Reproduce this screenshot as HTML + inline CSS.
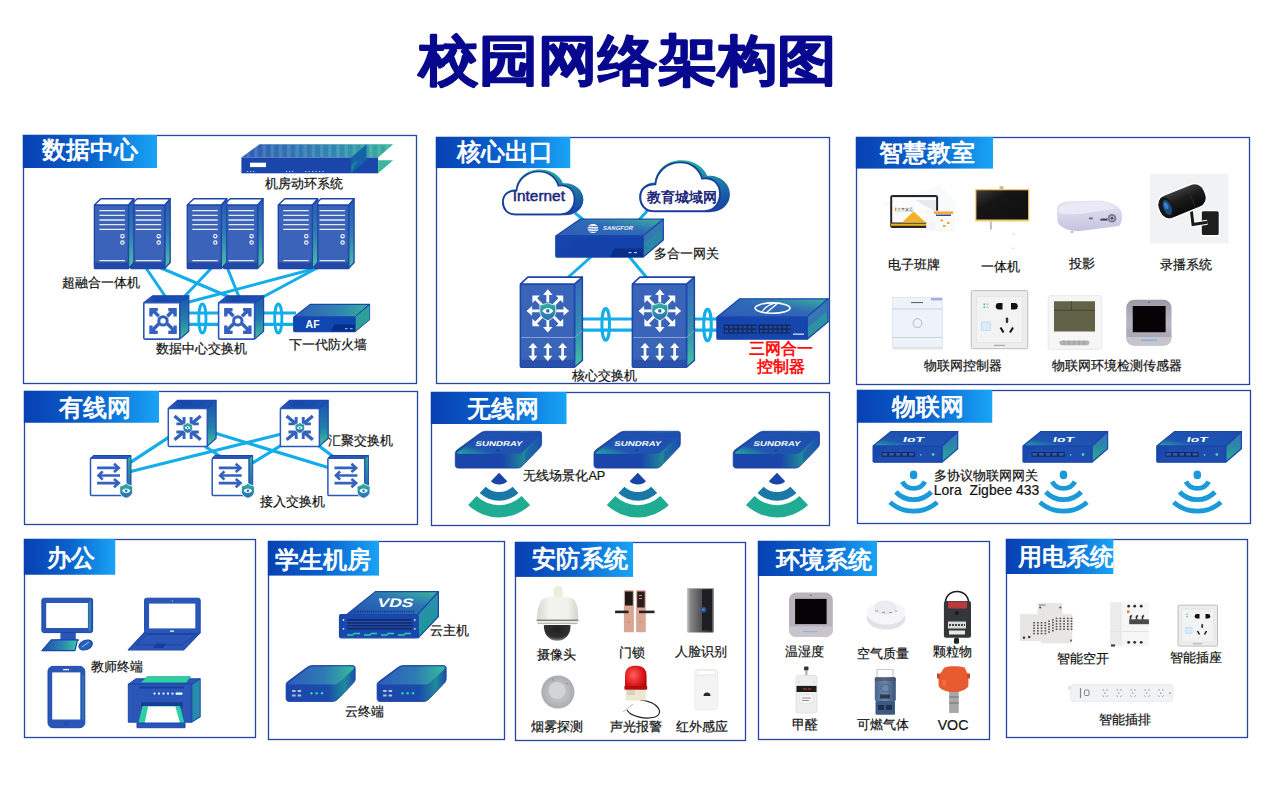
<!DOCTYPE html><html><head><meta charset="utf-8"><style>html,body{margin:0;padding:0;background:#fff;width:1281px;height:800px;overflow:hidden}svg{display:block}</style></head><body>
<svg width="1281" height="800" viewBox="0 0 1281 800" font-family="Liberation Sans, sans-serif">
<defs>
<linearGradient id="hg" x1="0" x2="1" y1="0" y2="0"><stop offset="0" stop-color="#0840b2"/><stop offset="0.5" stop-color="#0a62cc"/><stop offset="1" stop-color="#18a4f6"/></linearGradient>

<linearGradient id="sideg" x1="0" x2="0" y1="0" y2="1"><stop offset="0" stop-color="#2a57b4"/><stop offset="0.5" stop-color="#2f7db3"/><stop offset="1" stop-color="#4cc5a0"/></linearGradient>
<linearGradient id="topg" x1="0" x2="1" y1="0" y2="0"><stop offset="0" stop-color="#2f5cb6"/><stop offset="0.6" stop-color="#2f86b0"/><stop offset="1" stop-color="#36b49a"/></linearGradient>
<linearGradient id="swtop" x1="0" x2="1" y1="0" y2="0"><stop offset="0" stop-color="#2d5cb8"/><stop offset="0.3" stop-color="#1646ac"/><stop offset="1" stop-color="#1c55b5"/></linearGradient>
<linearGradient id="swside" x1="0" x2="0" y1="0" y2="1"><stop offset="0" stop-color="#1d55b2"/><stop offset="0.55" stop-color="#237fa8"/><stop offset="1" stop-color="#3ec29a"/></linearGradient>
<symbol id="cab" overflow="visible">
 <path d="M34,7 L39.5,0.8 L39.5,64.5 L34,70.6 Z" fill="url(#sideg)" stroke="#1d46a8" stroke-width="1.3" stroke-linejoin="round"/>
 <rect x="0" y="7" width="34" height="63.6" fill="#3b63b9" stroke="#1d46a8" stroke-width="1.4" rx="0.8"/>
 <path d="M0,7 L6.5,0.8 L39.5,0.8 L34,7 Z" fill="#fff" stroke="#1d46a8" stroke-width="1.4" stroke-linejoin="round"/>
 <path d="M0.6,64.5 L34,64.5 L34,70.6 L0.6,70.6 Z" fill="#2448a8"/>
 <g stroke="#e6ecf6" stroke-width="1.3"><path d="M5,12.7H30.4M5,17.4H30.4M5,22H30.4M5,26.6H30.4M5,31.4H30.4M5,62.7H30.4"/></g>
 <circle cx="28" cy="38.2" r="1.7" fill="none" stroke="#fff" stroke-width="1.1"/>
 <circle cx="28" cy="44.6" r="1.7" fill="none" stroke="#fff" stroke-width="1.1"/>
</symbol>
<symbol id="dcsw" overflow="visible">
 <path d="M0,7 L9,0 L45,0 L36,7 Z" fill="url(#swtop)" stroke="#1a48ae" stroke-width="1.2" stroke-linejoin="round"/>
 <path d="M36,7 L45,0 L45,35.4 L36,43.3 Z" fill="url(#swside)" stroke="#1a48ae" stroke-width="1.2" stroke-linejoin="round"/>
 <rect x="0" y="7" width="36" height="36.3" fill="#fff" stroke="#2a58b8" stroke-width="1.6" rx="1"/>
 <g stroke="#3461bd" stroke-width="3.4" fill="none">
  <path d="M9.5,15 L15,20.5 M29,15 L23.5,20.5 M9.5,33.5 L15,28 M29,33.5 L23.5,28"/>
 </g>
 <g fill="#3461bd">
  <path d="M5.5,12.1 H14 V15.4 L11.6,15.6 L8.8,18.4 L8.8,20.6 H5.5 Z"/>
  <path d="M33,12.1 H24.5 V15.4 L26.9,15.6 L29.7,18.4 L29.7,20.6 H33 Z"/>
  <path d="M5.5,38.2 H14 V34.9 L11.6,34.7 L8.8,31.9 L8.8,29.7 H5.5 Z"/>
  <path d="M33,38.2 H24.5 V34.9 L26.9,34.7 L29.7,31.9 L29.7,29.7 H33 Z"/>
 </g>
 <circle cx="19.2" cy="25.1" r="4.2" fill="none" stroke="#3461bd" stroke-width="3"/>
</symbol>

<linearGradient id="cloudg" x1="0.3" x2="0.9" y1="0" y2="1"><stop offset="0" stop-color="#22c096"/><stop offset="0.45" stop-color="#1c8aa6"/><stop offset="1" stop-color="#1a3ca6"/></linearGradient>
<linearGradient id="gwtop" x1="0" x2="1" y1="1" y2="0"><stop offset="0" stop-color="#2f5db8"/><stop offset="0.55" stop-color="#2f6ab6"/><stop offset="1" stop-color="#38b49c"/></linearGradient>
<linearGradient id="coreside" x1="0" x2="0" y1="0" y2="1"><stop offset="0" stop-color="#3a68bc"/><stop offset="0.6" stop-color="#3690b0"/><stop offset="1" stop-color="#44c4a0"/></linearGradient>
<linearGradient id="shieldg" x1="0" x2="0" y1="0" y2="1"><stop offset="0" stop-color="#2eb49a"/><stop offset="1" stop-color="#2a6ab8"/></linearGradient>
<symbol id="cloud" overflow="visible">
 <path d="M12,47 C3,47 -1,40 -1,33.5 C-1,25.5 5.5,20.5 13,20.5 C14,9 24,0.5 36.5,0.5 C49,0.5 57,7 60,14.5 C71,13.5 80.4,21 80.4,31 C80.4,41 72,47 62,47 Z" fill="url(#cloudg)"/>
 <path d="M12,46 C4,46 0,40 0,33.5 C0,26 6,21.5 13.5,22 C14.5,10.5 24,2.5 36,2.5 C46,2.5 53,8.5 55.5,17 C64,15 71.5,21 71.5,30.5 C71.5,40 65.5,46 57.5,46 Z" fill="#fff" stroke="#1d3c9e" stroke-width="1.7"/>
</symbol>
<symbol id="core" overflow="visible">
 <path d="M54.1,7 L62,0 L62,83.4 L54.1,90.1 Z" fill="url(#coreside)" stroke="#1a46ac" stroke-width="1.4" stroke-linejoin="round"/>
 <rect x="0" y="7" width="54.1" height="83.1" fill="#3a64b8" stroke="#1a46ac" stroke-width="1.6" rx="1"/>
 <path d="M0,7 L7.4,0 L62,0 L54.1,7 Z" fill="#fff" stroke="#1a46ac" stroke-width="1.6" stroke-linejoin="round"/>
 <path d="M0.8,82.6 L54.1,82.6 L54.1,90.1 L0.8,90.1Z" fill="#2a50ac"/>
 <path d="M0.8,82.6 L8,75 L54.1,75 L54.1,82.6Z" fill="#3560b6" opacity="0.5"/>
 <path d="M0.8,60.4 H54.1 L62,53.4" stroke="#8eaadc" stroke-width="0.9" fill="none"/>
 <g stroke="#fff" stroke-width="2.8" fill="none" stroke-linecap="butt">
  <path d="M27.4,25 V15 M27.4,42.4 V52.5 M19,33.8 H9 M35.8,33.8 H45.8 M21.5,27.9 L14.5,20.9 M33.3,27.9 L40.3,20.9 M21.5,39.7 L14.5,46.7 M33.3,39.7 L40.3,46.7"/>
 </g>
 <g fill="#fff">
  <path d="M27.4,12.2 L22.6,17.8 H32.2 Z M27.4,55.4 L22.6,49.8 H32.2 Z M6.1,33.8 L11.7,29 V38.6 Z M48.7,33.8 L43.1,29 V38.6 Z"/>
  <path d="M12,18.4 H19.5 L12,25.9 Z M42.8,18.4 H35.3 L42.8,25.9 Z M12,49.2 H19.5 L12,41.7 Z M42.8,49.2 H35.3 L42.8,41.7 Z"/>
 </g>
 <path d="M27.4,25.5 C24,27.5 21.5,27.8 19.5,27.5 V34 C19.5,39 23,42 27.4,43.5 C31.8,42 35.3,39 35.3,34 V27.5 C33.3,27.8 30.8,27.5 27.4,25.5 Z" fill="url(#shieldg)" stroke="#fff" stroke-width="0.8"/>
 <path d="M21.8,33.8 C25,29.8 29.8,29.8 33,33.8 C29.8,37.8 25,37.8 21.8,33.8 Z" fill="#fff"/>
 <circle cx="27.4" cy="33.8" r="1.8" fill="#2a6ab8"/>
 <g stroke="#fff" stroke-width="2.6" fill="none"><path d="M12.6,68 V82 M27.4,68 V82 M42.2,68 V82"/></g>
 <g fill="#fff"><path d="M12.6,65.6 L8.1,71 H17.1Z M12.6,84.1 L8.1,78.7 H17.1Z M27.4,65.6 L22.9,71 H31.9Z M27.4,84.1 L22.9,78.7 H31.9Z M42.2,65.6 L37.7,71 H46.7Z M42.2,84.1 L37.7,78.7 H46.7Z"/></g>
</symbol>

<linearGradient id="tvscr" x1="0" x2="1" y1="0" y2="1"><stop offset="0" stop-color="#3a3a3a"/><stop offset="0.35" stop-color="#151515"/><stop offset="1" stop-color="#101010"/></linearGradient>
<linearGradient id="projg" x1="0" x2="0" y1="0" y2="1"><stop offset="0" stop-color="#e4e4f4"/><stop offset="1" stop-color="#c4c4e0"/></linearGradient>
<linearGradient id="sensg" x1="0" x2="0" y1="0" y2="1"><stop offset="0" stop-color="#9c9aa4"/><stop offset="0.5" stop-color="#b8b6c0"/><stop offset="1" stop-color="#a09ea8"/></linearGradient>
<linearGradient id="cylg" x1="0" x2="0" y1="0" y2="1"><stop offset="0" stop-color="#3c3c3c"/><stop offset="0.4" stop-color="#1c1c1c"/><stop offset="1" stop-color="#0a0a0a"/></linearGradient>

<linearGradient id="aggside" x1="0" x2="0" y1="0" y2="1"><stop offset="0" stop-color="#1a52b2"/><stop offset="0.6" stop-color="#2280a8"/><stop offset="1" stop-color="#46c8a0"/></linearGradient>
<linearGradient id="accside" x1="0" x2="0" y1="0" y2="1"><stop offset="0" stop-color="#2fb49a"/><stop offset="1" stop-color="#2a5ab6"/></linearGradient>
<symbol id="shield" overflow="visible">
 <path d="M0,-7.2 C-3,-5 -5,-4.6 -6.5,-4.6 V1 C-6.5,4.6 -3.5,6.6 0,7.8 C3.5,6.6 6.5,4.6 6.5,1 V-4.6 C5,-4.6 3,-5 0,-7.2Z" fill="url(#shieldg)" stroke="#fff" stroke-width="0.9"/>
 <path d="M-4.2,0.2 C-1.8,-2.8 1.8,-2.8 4.2,0.2 C1.8,3.2 -1.8,3.2 -4.2,0.2Z" fill="#fff"/>
 <circle cx="0" cy="0.2" r="1.3" fill="#2a6ab8"/>
</symbol>
<symbol id="agg" overflow="visible">
 <path d="M0,8.1 L9.4,0 L47.8,0 L39,8.1 Z" fill="url(#swtop)" stroke="#1a48ae" stroke-width="1.2" stroke-linejoin="round"/>
 <path d="M39,8.1 L47.8,0 L47.8,38 L39,46.1 Z" fill="url(#aggside)" stroke="#1a48ae" stroke-width="1.2" stroke-linejoin="round"/>
 <rect x="0" y="8.1" width="39" height="38" fill="#fff" stroke="#2a58b8" stroke-width="1.5" rx="1"/>
 <g stroke="#3461bd" stroke-width="3.3" fill="none"><path d="M6.2,15.7 L15.2,23.3 M32.4,15.7 L23.4,23.3 M6.2,39.5 L15.2,31.9 M32.4,39.5 L23.4,31.9"/></g>
 <g fill="#3461bd">
  <path d="M14.3,16.6 H17.2 V25 H8.1 V22.1 H14.3 Z"/>
  <path d="M24.3,16.6 H21.4 V25 H30.5 V22.1 H24.3 Z"/>
  <path d="M14.3,38.6 H17.2 V30.2 H8.1 V33.1 H14.3 Z"/>
  <path d="M24.3,38.6 H21.4 V30.2 H30.5 V33.1 H24.3 Z"/>
 </g>
 <use href="#shield" x="19.4" y="27.4" transform="translate(19.4,27.4) scale(0.72) translate(-19.4,-27.4)"/>
</symbol>
<symbol id="acc" overflow="visible">
 <path d="M0,2.7 L2.7,0 L40.5,0 L36.8,2.7 Z" fill="#2a5ab8" stroke="#1a48ae" stroke-width="1" stroke-linejoin="round"/>
 <path d="M36.8,2.7 L40.5,0 L40.5,34 L36.8,37.4 Z" fill="url(#accside)" stroke="#1a48ae" stroke-width="1" stroke-linejoin="round"/>
 <rect x="0" y="2.7" width="36.8" height="37.4" fill="#fff" stroke="#2a58b8" stroke-width="1.5" rx="1"/>
 <g stroke="#3461bd" stroke-width="2.6" fill="none">
  <path d="M6.6,12.4 H27.5 M9,20 H29.5 M6.6,27.6 H27.5"/>
  <path d="M23.5,8.2 L28.3,12.4 L23.5,16.6 M12.2,15.8 L8,20 L12.2,24.2 M23.5,23.4 L28.3,27.6 L23.5,31.8" stroke-linejoin="miter"/>
 </g>
 <use href="#shield" x="35.7" y="35"/>
</symbol>

<linearGradient id="aptop" x1="0" x2="1" y1="1" y2="0"><stop offset="0" stop-color="#22b496"/><stop offset="0.25" stop-color="#1f56b0"/><stop offset="1" stop-color="#1e4caf"/></linearGradient>
<linearGradient id="apfront" x1="0" x2="1" y1="0" y2="0"><stop offset="0" stop-color="#1a46ab"/><stop offset="0.55" stop-color="#1a46ab"/><stop offset="0.8" stop-color="#1f8a98"/><stop offset="1" stop-color="#1a4aad"/></linearGradient>
<linearGradient id="iottop" x1="0" x2="1" y1="1" y2="0"><stop offset="0" stop-color="#2aa89c"/><stop offset="0.3" stop-color="#1e56b2"/><stop offset="1" stop-color="#1e4cb0"/></linearGradient>
<linearGradient id="iotside" x1="0" x2="0" y1="0" y2="1"><stop offset="0" stop-color="#3a6cbc"/><stop offset="0.5" stop-color="#2a8aa8"/><stop offset="1" stop-color="#28b090"/></linearGradient>
<symbol id="ap" overflow="visible">
 <path d="M0,22.2 C0,20.5 1,19.5 2,18.5 L24,2.5 C26.5,0.8 28,0 31,0 H84 C85.5,0 86.3,1 86.3,2.5 V12 C86.3,14 85.5,15.5 84,17 L69.6,32 C67,34.6 65.5,36.8 62,36.8 H3 C1.2,36.8 0,35.6 0,34 Z" fill="url(#apfront)" stroke="#1a3ea0" stroke-width="0.8"/>
 <path d="M2,21 L25.5,3 C27.5,1.4 29,1 31,1 H84 C85.5,1 85.8,2.5 84.5,4 L69,19.5 C67,21.5 65.5,22.4 62.5,22.4 H3 C1.5,22.4 1,21.8 2,21Z" fill="url(#aptop)"/>
 <path d="M70,21 L85,5 V12 C85,14 84,15.5 83,16.5 L69.6,30.5 Z" fill="#1e58b0" opacity="0.6"/>
 <text x="19.8" y="15.1" font-size="7" font-weight="bold" fill="#fff" textLength="47" lengthAdjust="spacingAndGlyphs" transform="translate(19.8,15.1) skewX(-14) translate(-19.8,-15.1)">SUNDRAY</text>
 <rect x="41" y="18.5" width="3" height="0.8" fill="#0a2a80"/>
</symbol>
<symbol id="iot" overflow="visible">
 <path d="M68.9,14.5 L84.6,0 L84.6,17.3 L68.9,30.7 Z" fill="url(#iotside)" stroke="#1a46ac" stroke-width="1.2" stroke-linejoin="round"/>
 <path d="M0,14.5 L17.9,0 L84.6,0 L68.9,14.5 Z" fill="url(#iottop)" stroke="#1a46ac" stroke-width="1.2" stroke-linejoin="round"/>
 <rect x="0" y="14.5" width="68.9" height="16.2" fill="#1848ae" stroke="#1a46ac" stroke-width="1.2" rx="1"/>
 <path d="M1,29.5 L14,15.5 H68 V29.5Z" fill="#2a5ab8" opacity="0.25"/>
 <rect x="8.5" y="20.5" width="33.3" height="4.8" fill="#0e2a6e"/>
 <g fill="#3a5a9a"><rect x="9.5" y="21.5" width="4.6" height="2.6"/><rect x="16.1" y="21.5" width="4.6" height="2.6"/><rect x="22.7" y="21.5" width="4.6" height="2.6"/><rect x="29.3" y="21.5" width="4.6" height="2.6"/><rect x="35.9" y="21.5" width="4.6" height="2.6"/></g>
 <circle cx="47.7" cy="23.3" r="0.9" fill="#3ad8a0"/>
 <circle cx="60" cy="23" r="1.4" fill="#3ad8a0"/>
 <text x="29.5" y="10.7" font-size="7.4" font-weight="bold" fill="#fff" textLength="21" lengthAdjust="spacingAndGlyphs" transform="translate(29.5,10.7) skewX(-14) translate(-29.5,-10.7)">IoT</text>
</symbol>

<linearGradient id="kbg" x1="0" x2="1" y1="0" y2="0"><stop offset="0" stop-color="#1f4fb0"/><stop offset="0.6" stop-color="#2a8ab0"/><stop offset="1" stop-color="#3ec8a0"/></linearGradient>
<linearGradient id="ttop" x1="0" x2="1" y1="0" y2="0"><stop offset="0" stop-color="#2e5cb8"/><stop offset="0.55" stop-color="#2e7ab4"/><stop offset="1" stop-color="#36bc9c"/></linearGradient>
<linearGradient id="tfront" x1="0" x2="1" y1="0" y2="0"><stop offset="0" stop-color="#1a46ab"/><stop offset="0.6" stop-color="#1a4aab"/><stop offset="0.85" stop-color="#1f8a9c"/><stop offset="1" stop-color="#1a4cad"/></linearGradient>
<linearGradient id="vdstop" x1="0" x2="1" y1="1" y2="0"><stop offset="0" stop-color="#1f50b0"/><stop offset="0.6" stop-color="#2d74b4"/><stop offset="1" stop-color="#38bc9c"/></linearGradient>
<linearGradient id="vdsside" x1="0" x2="0" y1="0" y2="1"><stop offset="0" stop-color="#2d8cb0"/><stop offset="1" stop-color="#1a9a96"/></linearGradient>
<linearGradient id="domeg" x1="0" x2="1" y1="0" y2="0"><stop offset="0" stop-color="#d8d8d0"/><stop offset="0.3" stop-color="#f4f4ee"/><stop offset="0.75" stop-color="#f2f2ec"/><stop offset="1" stop-color="#d4d4cc"/></linearGradient>
<radialGradient id="bubg" cx="0.5" cy="0.3" r="0.7"><stop offset="0" stop-color="#202020"/><stop offset="0.7" stop-color="#303030"/><stop offset="1" stop-color="#8a8a8a"/></radialGradient>
<linearGradient id="faceg" x1="0" x2="1" y1="0" y2="0"><stop offset="0" stop-color="#d0d0d0"/><stop offset="0.12" stop-color="#8a8a8a"/><stop offset="0.5" stop-color="#555"/><stop offset="1" stop-color="#2a2a2a"/></linearGradient>
<radialGradient id="redg" cx="0.4" cy="0.4" r="0.7"><stop offset="0" stop-color="#ff6060"/><stop offset="0.6" stop-color="#e01818"/><stop offset="1" stop-color="#a00808"/></radialGradient>
<radialGradient id="smokeg" cx="0.5" cy="0.5" r="0.5"><stop offset="0" stop-color="#d4d6d8"/><stop offset="1" stop-color="#a8acb0"/></radialGradient>
<linearGradient id="gasg" x1="0" x2="1" y1="0" y2="0"><stop offset="0" stop-color="#4a6890"/><stop offset="0.5" stop-color="#6a88a8"/><stop offset="1" stop-color="#3a5478"/></linearGradient>
<symbol id="term" overflow="visible">
 <path d="M0,19 C0,17.5 1,16.5 2.5,15.5 L20,2.5 C22.5,0.8 24,0 27,0 H66.5 C68,0 69.1,1 69.1,2.5 V13 C69.1,15 68.3,16.5 67,17.8 L53,32.5 C50.5,35 49,36 46,36 H3 C1.2,36 0,34.8 0,33 Z" fill="url(#tfront)" stroke="#1a3ea0" stroke-width="0.8"/>
 <path d="M2,17.8 L21.5,3 C23.5,1.5 25,1 27,1 H66.5 C68,1 68.3,2.5 67,4 L53.5,16.5 C51.5,18.4 50,19 47,19 H3 C1.5,19 1,18.5 2,17.8Z" fill="url(#ttop)"/>
 <g fill="#b8c0d0"><rect x="6" y="24.5" width="3.5" height="2"/><rect x="11.5" y="24.5" width="3.5" height="2"/><rect x="6" y="29" width="3.5" height="2"/><rect x="11.5" y="29" width="3.5" height="2"/></g>
 <g fill="#30d8a0"><circle cx="25.4" cy="27.8" r="1.2"/><circle cx="30.6" cy="27.8" r="1.2"/><circle cx="35.9" cy="27.8" r="1.2"/></g>
</symbol>

</defs>
<rect width="1281" height="800" fill="#fff"/>

<rect x="23.5" y="135.5" width="393.0" height="248.0" fill="#fff" stroke="#2446a2" stroke-width="1.3"/>
<rect x="22.85" y="134.85" width="134.15" height="33.15" fill="url(#hg)"/>
<rect x="436.5" y="137.5" width="393.0" height="246.0" fill="#fff" stroke="#2446a2" stroke-width="1.3"/>
<rect x="435.85" y="136.85" width="134.4" height="31.249999999999993" fill="url(#hg)"/>
<rect x="856.5" y="137.5" width="393.0" height="247.0" fill="#fff" stroke="#2446a2" stroke-width="1.3"/>
<rect x="855.85" y="136.85" width="137.15" height="31.749999999999993" fill="url(#hg)"/>
<rect x="24.5" y="391.5" width="393.0" height="133.0" fill="#fff" stroke="#2446a2" stroke-width="1.3"/>
<rect x="23.85" y="390.85" width="135.15" height="31.9" fill="url(#hg)"/>
<rect x="431.5" y="392.5" width="398.0" height="133.0" fill="#fff" stroke="#2446a2" stroke-width="1.3"/>
<rect x="430.85" y="391.85" width="135.65" height="32.15" fill="url(#hg)"/>
<rect x="857.5" y="390.5" width="393.0" height="133.0" fill="#fff" stroke="#2446a2" stroke-width="1.3"/>
<rect x="856.85" y="389.85" width="135.4" height="32.9" fill="url(#hg)"/>
<rect x="24.5" y="539.5" width="231.0" height="198.0" fill="#fff" stroke="#2446a2" stroke-width="1.3"/>
<rect x="23.85" y="538.85" width="91.4" height="35.9" fill="url(#hg)"/>
<rect x="268.5" y="541.5" width="236.0" height="198.0" fill="#fff" stroke="#2446a2" stroke-width="1.3"/>
<rect x="267.85" y="540.85" width="111.15" height="34.75000000000002" fill="url(#hg)"/>
<rect x="515.5" y="542.5" width="230.0" height="198.0" fill="#fff" stroke="#2446a2" stroke-width="1.3"/>
<rect x="514.85" y="541.85" width="118.25000000000003" height="35.049999999999976" fill="url(#hg)"/>
<rect x="758.5" y="541.5" width="231.0" height="198.0" fill="#fff" stroke="#2446a2" stroke-width="1.3"/>
<rect x="757.85" y="540.85" width="119.15" height="35.15" fill="url(#hg)"/>
<rect x="1006.5" y="539.5" width="241.0" height="198.0" fill="#fff" stroke="#2446a2" stroke-width="1.3"/>
<rect x="1005.85" y="538.85" width="107.44999999999996" height="35.15" fill="url(#hg)"/>
<clipPath id="hclip"><rect x="1006.6" y="539.25" width="106.69999999999993" height="34.75"/></clipPath>
<g stroke="#13aeea" stroke-width="3" stroke-linecap="round">
<line x1="146" y1="268" x2="165" y2="296"/>
<line x1="161" y1="268" x2="227" y2="296"/>
<line x1="211.5" y1="268" x2="184" y2="297"/>
<line x1="227.4" y1="268" x2="239" y2="297"/>
<line x1="317" y1="268" x2="189" y2="302"/>
<line x1="317" y1="268" x2="263" y2="297"/>
</g>
<use href="#cab" x="130.7" y="198"/>
<use href="#cab" x="94.4" y="198"/>
<use href="#cab" x="223.60000000000002" y="198"/>
<use href="#cab" x="187.3" y="198"/>
<use href="#cab" x="314.6" y="198"/>
<use href="#cab" x="278.3" y="198"/>
<g>
 <clipPath id="rtop"><path d="M241.4,157.5 L259.5,144.3 L393.1,144.3 L378.1,157.5 Z"/></clipPath>
 <path d="M241.4,157.5 L259.5,144.3 L393.1,144.3 L378.1,157.5 Z" fill="url(#topg)"/>
 <g clip-path="url(#rtop)"><rect x="246.0" y="144.3" width="3.6" height="13.2" fill="#fff" opacity="0.13"/><rect x="254.2" y="144.3" width="3.6" height="13.2" fill="#fff" opacity="0.13"/><rect x="262.4" y="144.3" width="3.6" height="13.2" fill="#fff" opacity="0.13"/><rect x="270.6" y="144.3" width="3.6" height="13.2" fill="#fff" opacity="0.13"/><rect x="278.8" y="144.3" width="3.6" height="13.2" fill="#fff" opacity="0.13"/><rect x="287.0" y="144.3" width="3.6" height="13.2" fill="#fff" opacity="0.13"/><rect x="295.2" y="144.3" width="3.6" height="13.2" fill="#fff" opacity="0.13"/><rect x="303.4" y="144.3" width="3.6" height="13.2" fill="#fff" opacity="0.13"/><rect x="311.6" y="144.3" width="3.6" height="13.2" fill="#fff" opacity="0.13"/><rect x="319.8" y="144.3" width="3.6" height="13.2" fill="#fff" opacity="0.13"/><rect x="328.0" y="144.3" width="3.6" height="13.2" fill="#fff" opacity="0.13"/><rect x="336.2" y="144.3" width="3.6" height="13.2" fill="#fff" opacity="0.13"/><rect x="344.4" y="144.3" width="3.6" height="13.2" fill="#fff" opacity="0.13"/><rect x="352.6" y="144.3" width="3.6" height="13.2" fill="#fff" opacity="0.13"/><rect x="360.8" y="144.3" width="3.6" height="13.2" fill="#fff" opacity="0.13"/><rect x="369.0" y="144.3" width="3.6" height="13.2" fill="#fff" opacity="0.13"/><rect x="377.2" y="144.3" width="3.6" height="13.2" fill="#fff" opacity="0.13"/><rect x="385.4" y="144.3" width="3.6" height="13.2" fill="#fff" opacity="0.13"/></g>
 <rect x="241.4" y="157.5" width="136.7" height="15.8" fill="#1a45aa"/>
 <path d="M378.1,160.3 L393.1,160.3 L378.1,173.3 Z" fill="#3ab89c"/>
 <path d="M351.2,157.5 L366.5,144.3 L366.5,160 L351.2,173.3 Z" fill="#1462a8"/>
 <path d="M351.2,173.3 L351.2,165 L358,160 Z" fill="#1a8a98" opacity="0.8"/>
 <rect x="250" y="162.7" width="16" height="4.4" fill="#fff"/>
 <g fill="#c8d4ee"><rect x="247" y="171" width="1.2" height="1"/><rect x="250" y="171" width="1.2" height="1"/><rect x="253" y="171" width="1.2" height="1"/>
 <rect x="286" y="171" width="1.2" height="1"/><rect x="289" y="171" width="1.2" height="1"/><rect x="292" y="171" width="1.2" height="1"/>
 <rect x="305" y="171" width="1.2" height="1"/><rect x="308.5" y="171" width="1.2" height="1"/><rect x="312" y="171" width="1.2" height="1"/><rect x="315.5" y="171" width="1.2" height="1"/><rect x="319" y="171" width="1.2" height="1"/><rect x="322.5" y="171" width="1.2" height="1"/></g>
</g>
<g stroke="#13aeea" stroke-width="3.2">
<path d="M180,313 H219 M180,324.3 H219 M263,313 H296 M263,324.3 H296"/>
</g>
<g fill="none" stroke="#13aeea" stroke-width="2.8"><ellipse cx="202.4" cy="318.5" rx="3.6" ry="14.5"/><ellipse cx="278.3" cy="318.5" rx="3.6" ry="14.5"/></g>
<use href="#dcsw" x="143.8" y="295.8"/>
<use href="#dcsw" x="218.6" y="295.8"/>
<g stroke-linejoin="round">
 <path d="M293.7,317.1 L310.1,304.4 L369.5,304.4 L355.1,317.1 Z" fill="url(#topg)" stroke="#1a46ac" stroke-width="1.2"/>
 <path d="M355.1,317.1 L369.5,304.4 L369.5,319.5 L355.1,331.6 Z" fill="#2a8fa8" stroke="#1a46ac" stroke-width="1.2"/>
 <path d="M355.1,317.1 L369.5,305.5 L369.5,319.5 L355.1,331.6 Z" fill="#2e9e9c"/>
 <rect x="293.7" y="317.1" width="61.4" height="14.5" fill="#0f46b2" stroke="#1a46ac" stroke-width="1.2" rx="1"/>
 <path d="M331,331.6 L334.3,324.5 L355,324.5 L355,331.6Z" fill="#082e8c"/>
 <text x="305.6" y="328" font-size="10.5" font-weight="bold" fill="#fff">AF</text>
 <rect x="345" y="328.2" width="2.6" height="1" fill="#b8c6e8"/><rect x="350" y="328.2" width="2.6" height="1" fill="#b8c6e8"/>
</g>
<g stroke="#13aeea" stroke-width="3"><line x1="575" y1="213" x2="585" y2="221"/><line x1="648" y1="210" x2="638" y2="221"/>
<line x1="592" y1="256" x2="567.4" y2="278"/><line x1="628.7" y1="256" x2="647" y2="278"/></g>
<use href="#cloud" x="503" y="169" transform="translate(503,169) scale(1,0.985) translate(-503,-169)"/>
<use href="#cloud" x="640.3" y="159.6" transform="translate(640.3,159.6) scale(1.115,1.12) translate(-640.3,-159.6)"/>
<g stroke-linejoin="round">
 <path d="M555.8,236 L580.1,219.2 L663.3,219.2 L643.2,236 Z" fill="url(#gwtop)" stroke="#1a46ac" stroke-width="1.3"/>
 <path d="M643.2,236 L663.3,219.2 L663.3,239.9 L643.2,257.1 Z" fill="#2c86a8" stroke="#1a46ac" stroke-width="1.3"/>
 <path d="M643.2,236 L663.3,220 L663.3,228 L643.2,244Z" fill="#3a70b8" opacity="0.6"/>
 <rect x="555.8" y="236" width="87.4" height="21.1" fill="#1546ae" stroke="#1a46ac" stroke-width="1.3" rx="1"/>
 <path d="M556.5,256.5 L576,238 L643,238 L643,256.5Z" fill="#0f3ea6" opacity="0.5"/>
 <path d="M609.7,257 L614.5,248.5 L643,248.5 L643,257Z" fill="#0a2e8a"/>
 <rect x="628.5" y="252" width="3" height="1.2" fill="#c0cce8"/><rect x="634" y="252" width="3" height="1.2" fill="#c0cce8"/>
 <ellipse cx="593" cy="228.5" rx="5.4" ry="4.6" fill="#fff"/>
 <path d="M587,226.6 C590,225.5 595,227.5 599,226 M587,229 C590,228 595,230 599,228.5 M587.5,231.4 C590,230.5 595,232.3 598.5,231" stroke="#2a5db6" stroke-width="0.9" fill="none"/>
 <text x="602.5" y="230.3" font-size="5.8" font-weight="bold" fill="#e8eef8" textLength="30" lengthAdjust="spacingAndGlyphs" transform="translate(602.5,230.3) skewX(-14) translate(-602.5,-230.3)">SANGFOR</text>
</g>
<g stroke="#13aeea" stroke-width="3.2"><path d="M574,319 H634 M574,330.1 H634 M686,319 H718 M686,330.1 H718"/></g>
<g fill="none" stroke="#13aeea" stroke-width="3"><ellipse cx="605.7" cy="324.4" rx="3.8" ry="15.8"/><ellipse cx="707.5" cy="325.1" rx="3.8" ry="15.8"/></g>
<use href="#core" x="520.4" y="277.1"/>
<use href="#core" x="632.4" y="277.1"/>
<g stroke-linejoin="round">
 <path d="M716.9,317.2 L739.8,298.8 L828.1,298.8 L807.2,317.2 Z" fill="url(#gwtop)" stroke="#1a46ac" stroke-width="1.3"/>
 <path d="M807.2,317.2 L828.1,298.8 L828.1,321.7 L807.2,339.2 Z" fill="#2c92a4" stroke="#1a46ac" stroke-width="1.3"/>
 <path d="M807.2,317.2 L828.1,300 L828.1,311 L807.2,328Z" fill="#3a6cb8" opacity="0.7"/>
 <rect x="716.9" y="317.2" width="90.3" height="22" fill="#1546ae" stroke="#1a46ac" stroke-width="1.3" rx="1"/>
 <rect x="723.7" y="324.5" width="32.5" height="9.1" fill="#0d2a6e"/>
 <rect x="758.5" y="324.5" width="32.2" height="9.1" fill="#0d2a6e"/>
 <g fill="#2a4a8a"><rect x="725.0" y="326" width="3" height="2.4"/><rect x="725.0" y="330" width="3" height="2.4"/><rect x="729.6" y="326" width="3" height="2.4"/><rect x="729.6" y="330" width="3" height="2.4"/><rect x="734.2" y="326" width="3" height="2.4"/><rect x="734.2" y="330" width="3" height="2.4"/><rect x="738.8" y="326" width="3" height="2.4"/><rect x="738.8" y="330" width="3" height="2.4"/><rect x="743.4" y="326" width="3" height="2.4"/><rect x="743.4" y="330" width="3" height="2.4"/><rect x="748.0" y="326" width="3" height="2.4"/><rect x="748.0" y="330" width="3" height="2.4"/><rect x="752.6" y="326" width="3" height="2.4"/><rect x="752.6" y="330" width="3" height="2.4"/><rect x="760.0" y="326" width="3" height="2.4"/><rect x="760.0" y="330" width="3" height="2.4"/><rect x="764.6" y="326" width="3" height="2.4"/><rect x="764.6" y="330" width="3" height="2.4"/><rect x="769.2" y="326" width="3" height="2.4"/><rect x="769.2" y="330" width="3" height="2.4"/><rect x="773.8" y="326" width="3" height="2.4"/><rect x="773.8" y="330" width="3" height="2.4"/><rect x="778.4" y="326" width="3" height="2.4"/><rect x="778.4" y="330" width="3" height="2.4"/><rect x="783.0" y="326" width="3" height="2.4"/><rect x="783.0" y="330" width="3" height="2.4"/><rect x="787.6" y="326" width="3" height="2.4"/><rect x="787.6" y="330" width="3" height="2.4"/></g>
 <rect x="793" y="333.5" width="11" height="1.4" fill="#c8d4ee"/>
 <ellipse cx="772.6" cy="308.1" rx="17.5" ry="5.2" fill="none" stroke="#fff" stroke-width="1.6"/>
 <path d="M762,312 C766,305 774,302 781,303.5 M766,313 L778,303" stroke="#fff" stroke-width="1.3" fill="none"/>
</g>
<g>
 <path d="M881,204 L940,185 L958,205 L940,232 Z" fill="#f9fafb"/>
 <rect x="890.2" y="195.1" width="47.9" height="32.9" rx="2.5" fill="#262626"/>
 <rect x="892.2" y="197.1" width="43.9" height="25.4" fill="#fcfcfc"/>
 <path d="M915,200 L936,200 L936,212 Z" fill="#e6e9ef"/>
 <path d="M902,222.5 L913.5,211.5 L926,222.5 Z" fill="#f4b02a"/>
 <rect x="895" y="207.5" width="1.4" height="3.5" fill="#f08a10"/>
 <text x="896.5" y="211.3" font-size="4.2" fill="#333">大学英语</text>
 <rect x="891" y="223.6" width="46" height="2.2" fill="#e6b020"/>
 <rect x="926.5" y="211" width="27.3" height="19.5" fill="#fafafa" stroke="#eef0f4" stroke-width="0.6"/>
 <rect x="934" y="211.5" width="19" height="2.4" fill="#f7a23a"/>
 <rect x="936" y="214.5" width="15" height="1.5" fill="#2f4a80"/>
 <rect x="940.5" y="219.5" width="2.6" height="1.8" fill="#f59a30"/><rect x="947" y="222" width="2.6" height="1.8" fill="#f59a30"/><rect x="943" y="225" width="2.6" height="1.8" fill="#f59a30"/>
 <rect x="927" y="222" width="8" height="7" fill="#f2f4f8"/>
</g>
<g>
 <rect x="990" y="221" width="1.8" height="8.6" fill="#b8b8b8"/>
 <rect x="975.2" y="189" width="54.1" height="32.5" fill="#f2c96a" rx="0.8"/>
 <rect x="976.4" y="190.3" width="51.7" height="29.2" fill="url(#tvscr)"/>
 <rect x="999.5" y="186.2" width="4" height="2.8" fill="#c8b890"/>
 <circle cx="1013.5" cy="234" r="0.9" fill="none" stroke="#ccc" stroke-width="0.5"/>
 <circle cx="1012.8" cy="248.2" r="0.8" fill="#ccc"/>
</g>
<g>
 <path d="M1057,212 C1056,206 1059,203 1066,201.5 L1098,200.5 C1108,201 1117,205 1120.5,210 C1123,215 1122.5,222 1119,226 L1080,231 C1070,231.5 1060,228 1057.5,222 Z" fill="url(#projg)"/>
 <path d="M1057,212 C1058,207 1062,204 1070,203 L1098,202 C1106,202.5 1112,205 1116,208.5 L1080,214 C1068,215 1060,214.5 1057,212Z" fill="#eaeaf6"/>
 <circle cx="1112" cy="218.3" r="4.3" fill="#7a7a94"/>
 <circle cx="1112" cy="218.3" r="2.4" fill="#c4c4dc"/>
 <circle cx="1112" cy="218.3" r="1.3" fill="#3a3a55"/>
 <rect x="1100.5" y="218.5" width="7" height="2.2" fill="#4a4a66"/>
 <rect x="1089" y="217.5" width="3.8" height="1.8" fill="#6a6a84"/>
 <rect x="1071" y="231" width="2" height="2" fill="#b0b0c8"/>
</g>
<g>
 <rect x="1150" y="173.8" width="78.4" height="69.6" fill="#f1f2f4"/>
 <rect x="1200.3" y="209.7" width="19.5" height="27" rx="2.2" fill="#fff"/>
 <rect x="1201.8" y="211.2" width="16.9" height="23.8" rx="1.5" fill="#1e1e1e"/>
 <path d="M1190.9,207 L1193,224.5 L1207.3,222.3" stroke="#fff" stroke-width="5.2" fill="none"/>
 <path d="M1190.9,207 L1193,224.5 L1207.3,222.3" stroke="#1a1a1a" stroke-width="3" fill="none"/>
 <g transform="rotate(-22 1182 201.2)">
  <rect x="1156.5" y="188" width="51" height="26.4" rx="11" fill="#fff"/>
  <rect x="1158" y="189.5" width="48" height="23.4" rx="9.5" fill="url(#cylg)"/>
  <ellipse cx="1165" cy="201.2" rx="6.2" ry="11.2" fill="#161616"/>
  <ellipse cx="1166" cy="201.5" rx="4" ry="7.8" fill="#1a4a80"/>
  <ellipse cx="1165.5" cy="199.5" rx="2" ry="3.6" fill="#3a80c8"/>
  <path d="M1192,190 V212.5" stroke="#333" stroke-width="0.6"/>
 </g>
</g>
<g>
 <rect x="893" y="346" width="49" height="3.5" fill="#d8d8d8" opacity="0.7"/>
 <rect x="892.25" y="297.25" width="50.5" height="50" fill="#eef3fb" stroke="#d4dae6" stroke-width="0.6"/>
 <rect x="931" y="298" width="11" height="2.4" fill="#9fb0d8"/>
 <rect x="911" y="302" width="12" height="1.1" fill="#666"/>
 <path d="M892.5,309 H942.5 M892.5,337.5 H942.5" stroke="#c8ccd4" stroke-width="0.9"/>
 <circle cx="917.5" cy="323.1" r="4.4" fill="none" stroke="#a8a8a8" stroke-width="0.8"/>
</g>
<g>
 <rect x="971.25" y="290.6" width="56.5" height="58.1" rx="1.5" fill="#ededed" stroke="#bdbdbd" stroke-width="1"/>
 <rect x="976.25" y="296.25" width="46.25" height="46.25" fill="#f3f3f3" stroke="#dedede" stroke-width="0.6"/>
 <path d="M999,303 h3.5 v6.5 h-3.5 a3.2,3.2 0 0 1 0,-6.5Z" fill="#111"/>
 <path d="M1014.5,303 h-3.5 v6.5 h3.5 a3.2,3.2 0 0 0 0,-6.5Z" fill="#111"/>
 <rect x="1005.8" y="317.5" width="2.4" height="5.5" rx="1" fill="#333"/>
 <path d="M1000.5,327.5 L1003.5,332.5" stroke="#111" stroke-width="2"/>
 <path d="M1013,327.5 L1010,332.5" stroke="#111" stroke-width="2"/>
 <g fill="#3aa0e0"><rect x="983.5" y="303.5" width="1.5" height="1.5"/><rect x="983.5" y="306.5" width="1.5" height="1.5"/></g>
 <g fill="#bbb"><rect x="986" y="303.7" width="3" height="1"/><rect x="986" y="306.7" width="3" height="1"/></g>
 <rect x="981.5" y="322" width="9" height="8.5" fill="#d6ecf8" stroke="#a8d4f0" stroke-width="0.6"/>
 <rect x="994" y="344.8" width="11" height="1.2" fill="#aaa"/>
</g>
<g>
 <rect x="1048.1" y="295.6" width="53.8" height="53.8" rx="3" fill="#f6f6f6" stroke="#e4e4e4" stroke-width="0.8"/>
 <rect x="1054" y="301.25" width="41" height="30.25" fill="#626248"/>
 <path d="M1054,310.25 H1095 M1071.5,301.25 V310.25" stroke="#3e3e2e" stroke-width="0.8"/>
 <rect x="1059.4" y="340.4" width="30" height="4.85" rx="2.4" fill="#b4b4b4"/>
 <path d="M1064,340.6 v4.5 M1069,340.6 v4.5 M1074,340.6 v4.5 M1079,340.6 v4.5 M1084,340.6 v4.5" stroke="#8a8a8a" stroke-width="0.6"/>
</g>
<g>
 <rect x="1126.25" y="299.75" width="45.25" height="45.85" rx="8" fill="url(#sensg)"/>
 <path d="M1126.25,336.9 H1171.5 V337.6 C1171.5,342 1168,345.6 1163.5,345.6 H1134.25 C1129.75,345.6 1126.25,342 1126.25,337.6Z" fill="#c6c4cc"/>
 <rect x="1132.75" y="306" width="32.85" height="26.25" fill="#050306"/>
 <rect x="1141" y="339.5" width="16" height="1.4" fill="#7fb0e8"/>
 <circle cx="1149" cy="302.2" r="0.6" fill="#333"/>
</g>
<g stroke="#13aeea" stroke-width="3.2" stroke-linecap="round">
<line x1="168.2" y1="437.6" x2="131.7" y2="461.7"/>
<line x1="131.7" y1="471.3" x2="280.4" y2="434.2"/>
<line x1="216.3" y1="433.5" x2="327.2" y2="467.2"/>
<line x1="206" y1="447.2" x2="219" y2="455.5"/>
<line x1="280.4" y1="445.9" x2="253.4" y2="462.4"/>
<line x1="318.9" y1="445.9" x2="332.7" y2="456.2"/>
</g>
<use href="#agg" x="168.3" y="400.3"/>
<use href="#agg" x="280.4" y="400.3"/>
<use href="#acc" x="90.5" y="455.5"/>
<use href="#acc" x="212.2" y="455.5"/>
<use href="#acc" x="327.9" y="455.5"/>
<use href="#ap" x="455.3" y="431.3"/>
<path d="M499.1,472.8 L507.3,481.3 A11.8,11.8 0 0 1 490.9,481.3 Z" fill="#1a44a8"/>
<path d="M518.5,492.9 A27.9,27.9 0 0 1 479.7,492.9 L485.7,486.7 A19.3,19.3 0 0 0 512.5,486.7 Z" fill="#1a78a8"/>
<path d="M530.1,504.9 A44.6,44.6 0 0 1 468.1,504.9 L476.6,496.1 A32.4,32.4 0 0 0 521.6,496.1 Z" fill="#20ac92"/>
<use href="#ap" x="594.0" y="431.3"/>
<path d="M637.8,472.8 L646.0,481.3 A11.8,11.8 0 0 1 629.6,481.3 Z" fill="#1a44a8"/>
<path d="M657.2,492.9 A27.9,27.9 0 0 1 618.4,492.9 L624.4,486.7 A19.3,19.3 0 0 0 651.2,486.7 Z" fill="#1a78a8"/>
<path d="M668.8,504.9 A44.6,44.6 0 0 1 606.8,504.9 L615.3,496.1 A32.4,32.4 0 0 0 660.3,496.1 Z" fill="#20ac92"/>
<use href="#ap" x="733.2" y="431.3"/>
<path d="M777.0,472.8 L785.2,481.3 A11.8,11.8 0 0 1 768.8,481.3 Z" fill="#1a44a8"/>
<path d="M796.4,492.9 A27.9,27.9 0 0 1 757.6,492.9 L763.6,486.7 A19.3,19.3 0 0 0 790.4,486.7 Z" fill="#1a78a8"/>
<path d="M808.0,504.9 A44.6,44.6 0 0 1 746.0,504.9 L754.5,496.1 A32.4,32.4 0 0 0 799.5,496.1 Z" fill="#20ac92"/>
<use href="#iot" x="873.1" y="431.5"/>
<ellipse cx="913.6" cy="474.9" rx="3.8" ry="4.4" fill="#1a9ad8"/>
<g fill="none" stroke="#1a9ad8" stroke-width="4.8">
<path d="M902.21,481.56 A12.9,12.9 0 0 0 924.99,481.56"/>
<path d="M895.90,492.00 A24.2,24.2 0 0 0 931.30,492.00"/>
<path d="M889.94,502.24 A35.7,35.7 0 0 0 937.26,502.24"/>
</g>
<use href="#iot" x="1023.0" y="431.5"/>
<ellipse cx="1063.5" cy="474.9" rx="3.8" ry="4.4" fill="#1a9ad8"/>
<g fill="none" stroke="#1a9ad8" stroke-width="4.8">
<path d="M1052.11,481.56 A12.9,12.9 0 0 0 1074.89,481.56"/>
<path d="M1045.80,492.00 A24.2,24.2 0 0 0 1081.20,492.00"/>
<path d="M1039.84,502.24 A35.7,35.7 0 0 0 1087.16,502.24"/>
</g>
<use href="#iot" x="1156.8" y="431.5"/>
<ellipse cx="1197.3" cy="474.9" rx="3.8" ry="4.4" fill="#1a9ad8"/>
<g fill="none" stroke="#1a9ad8" stroke-width="4.8">
<path d="M1185.91,481.56 A12.9,12.9 0 0 0 1208.69,481.56"/>
<path d="M1179.60,492.00 A24.2,24.2 0 0 0 1215.00,492.00"/>
<path d="M1173.64,502.24 A35.7,35.7 0 0 0 1220.96,502.24"/>
</g>
<g stroke-linejoin="round">
 <rect x="60.4" y="631" width="15.4" height="9" fill="#2a56b8"/>
 <path d="M57,640 H79" stroke="#1a46ac" stroke-width="1.2"/>
 <rect x="41.9" y="598.2" width="50.7" height="34.4" rx="2" fill="#2a56b8" stroke="#1a46ac" stroke-width="1"/>
 <rect x="46.2" y="603" width="41.7" height="25" fill="#fff"/>
 <path d="M88.5,603 L91,600 V630 L88.5,632Z" fill="#34b49c" opacity="0.5"/>
 <path d="M41.9,650.7 L51.3,639.8 H77.6 L74.9,650.7 Z" fill="url(#kbg)" stroke="#1a46ac" stroke-width="1.2"/>
 <ellipse cx="85.7" cy="645" rx="7" ry="4.6" transform="rotate(-22 85.7 645)" fill="#2a60b8" stroke="#1a46ac" stroke-width="1.2"/>
 <path d="M82,647 L89,642" stroke="#8ad8c8" stroke-width="1"/>
</g>
<g stroke-linejoin="round">
 <path d="M128.3,649.8 L144.6,632.5 H200.2 L183.6,649.8 Z" fill="#2a56b8" stroke="#1a46ac" stroke-width="1.2"/>
 <path d="M136,645 L147,634.5 H196 L182,645 Z" fill="none" stroke="#1a3e98" stroke-width="0.8"/>
 <path d="M153,648 L156,643.5 H166 L163,648Z" fill="#1a3e98"/>
 <rect x="144.6" y="598.2" width="55.6" height="35.3" rx="2" fill="#2a56b8" stroke="#1a46ac" stroke-width="1"/>
 <rect x="149.1" y="603.6" width="46.2" height="24.8" fill="#fff"/>
 <rect x="170" y="630.5" width="4" height="1.2" fill="#fff"/>
 <circle cx="172.3" cy="601" r="0.5" fill="#fff"/>
</g>
<g>
 <rect x="48" y="666.4" width="36.8" height="61.3" rx="5" fill="#2a56b8" stroke="#1a46ac" stroke-width="1"/>
 <rect x="52.2" y="672.4" width="28.1" height="47.1" fill="#fff"/>
 <rect x="63" y="669" width="6" height="1.2" fill="#fff"/>
 <circle cx="66.2" cy="723.5" r="1.6" fill="none" stroke="#183c98" stroke-width="0.8"/>
 <path d="M83,675 V720" stroke="#34b49c" stroke-width="1" opacity="0.6"/>
</g>
<g stroke-linejoin="round">
 <path d="M191.7,684.2 L200.2,678.8 V717 L191.7,722.2 Z" fill="#2a8aac" stroke="#1a46ac" stroke-width="1"/>
 <path d="M128.3,684.2 L136,678.8 H200.2 L191.7,684.2 Z" fill="#2a56b8" stroke="#1a46ac" stroke-width="1"/>
 <rect x="128.3" y="684.2" width="63.4" height="38" fill="#2a56b8" stroke="#1a46ac" stroke-width="1"/>
 <path d="M141,682.4 L147.3,676.6 H190.8 L186.3,682.4 Z" fill="#2ecfa4" stroke="#1e9a88" stroke-width="0.6"/>
 <rect x="139" y="686.5" width="45" height="2" fill="#1a3e98"/>
 <g fill="#fff"><circle cx="154.5" cy="693.6" r="1.1"/><circle cx="159" cy="693.6" r="1.1"/><circle cx="163.5" cy="693.6" r="1.1"/><circle cx="168" cy="693.6" r="1.1"/><circle cx="172.5" cy="693.6" r="1.1"/><rect x="175.5" y="692.5" width="7" height="2.2" rx="1"/></g>
 <rect x="141" y="702.3" width="41.6" height="5.5" fill="#173c96"/>
 <path d="M138.3,723.5 L142.5,706 H180 L184.5,723.5 Z" fill="#2ecfa4"/>
 <path d="M144.6,723.2 L148.2,706.5 H175.4 L180,723.2 Z" fill="#fff"/>
 <rect x="137" y="723" width="48" height="4.7" fill="#2a56b8" stroke="#1a46ac" stroke-width="1"/>
</g>
<g stroke-linejoin="round">
 <path d="M417.4,614.7 L438.4,591.6 V616.5 L418.2,637.8 Z" fill="url(#vdsside)" stroke="#1a46ac" stroke-width="1.2"/>
 <path d="M346.5,614.7 L375.4,591.6 H438.4 L417.4,614.7 Z" fill="url(#vdstop)" stroke="#1a46ac" stroke-width="1.2"/>
 <rect x="339.5" y="614.7" width="78.7" height="23.1" rx="1.5" fill="#1848ae" stroke="#1a46ac" stroke-width="1.2"/>
 <rect x="347.4" y="619.1" width="64.7" height="10.5" fill="#0f2c78"/>
 <path d="M347.4,621.5 H412 M347.4,624.3 H412 M347.4,627.1 H412" stroke="#3a5aa8" stroke-width="0.8"/>
 <g fill="#dde6f6"><circle cx="343.5" cy="620" r="0.9"/><circle cx="343.5" cy="628.8" r="0.9"/><circle cx="414.8" cy="620" r="0.9"/><circle cx="414.8" cy="628.8" r="0.9"/></g>
 <path d="M347,635 h6 l1,-1.5 h6 M364,635 h6 l1,-1.5 h6 M381,635 h6 l1,-1.5 h6 M398,635 h6 l1,-1.5 h6" stroke="#30d0a0" stroke-width="1.3" fill="none"/>
 <path d="M353.5,611.5 H414.7" stroke="#0f2c78" stroke-width="1.6" stroke-dasharray="1 1.2"/>
 <text x="376.5" y="606.9" font-size="12.2" font-weight="bold" fill="#fff" textLength="36" lengthAdjust="spacingAndGlyphs" transform="translate(376.5,606.9) skewX(-16) translate(-376.5,-606.9)">VDS</text>
</g>
<use href="#term" x="286.1" y="665.5"/>
<use href="#term" x="377.1" y="665.5"/>
<g>
 <rect x="553.6" y="586" width="9.1" height="12" rx="4" fill="#eceedc"/>
 <path d="M537,621.5 C537,612 538,606 541,601 C543,597.5 548,596.6 558,596.6 C568,596.6 573,597.5 575,601 C578,606 578.5,612 578.3,621.5 Z" fill="url(#domeg)"/>
 <path d="M536.7,620 H578.3 V624 H536.7Z" fill="#e8e8e2"/>
 <path d="M536.7,620.2 H578.3" stroke="#555" stroke-width="1"/>
 <path d="M538,623.6 H577" stroke="#a0a09a" stroke-width="0.8"/>
 <path d="M543.8,625 C543.8,635 549,640.7 557.2,640.7 C565.4,640.7 570.6,635 570.6,625 Z" fill="url(#bubg)"/>
</g>
<g>
 <rect x="623.9" y="590.2" width="10" height="42" rx="1" fill="#d9a694"/>
 <rect x="636.1" y="590.2" width="9.7" height="42" rx="1" fill="#d9a694"/>
 <rect x="625" y="591.5" width="7.8" height="14" fill="#1a1a1a"/>
 <rect x="637.2" y="591.5" width="7.5" height="16" fill="#2a1e1e"/>
 <rect x="639" y="595" width="3" height="1" fill="#c88"/><rect x="639" y="598" width="3" height="1" fill="#c88"/>
 <rect x="615.1" y="610.6" width="13.5" height="2.6" fill="#2a2222"/>
 <rect x="639" y="610.6" width="15.5" height="2.6" fill="#2a2222"/>
 <path d="M627,622 h3 M639,622 h3" stroke="#b88070" stroke-width="0.8"/>
</g>
<g>
 <rect x="686.9" y="587.9" width="26.8" height="44.6" rx="1.2" fill="url(#faceg)"/>
 <rect x="702" y="589.5" width="10.5" height="41" fill="#1e1e22"/>
 <path d="M687.5,588.5 H713 V631.8" fill="none" stroke="#bdbdbd" stroke-width="0.8"/>
 <circle cx="703.5" cy="609.8" r="3" fill="#2a5ab0" opacity="0.7"/>
 <circle cx="703.5" cy="609.8" r="1.3" fill="#4a90e8"/>
</g>
<g>
 <circle cx="557.9" cy="692" r="16.6" fill="url(#smokeg)"/>
 <circle cx="557" cy="690.5" r="9" fill="#d2d4d6" stroke="#b0b2b4" stroke-width="0.6"/>
 <path d="M552,678 l1.5,3 M566,684 l2,-1" stroke="#888" stroke-width="0.8"/>
</g>
<g>
 <path d="M640,700 C660,702 664,714 655,717 C645,720 630,716 627,710" fill="none" stroke="#1a1a1a" stroke-width="1.1"/>
 <path d="M633,704 L623,712" stroke="#aaa" stroke-width="0.8"/>
 <rect x="625.6" y="688.5" width="20.2" height="12" rx="1" fill="#ece6d2"/>
 <rect x="627" y="690" width="8" height="5" fill="#d8d0b8"/>
 <path d="M625,689.4 V676 C625,668 630,665.8 635.7,665.8 C641.4,665.8 646.6,668 646.6,676 V689.4 Z" fill="url(#redg)"/>
 <rect x="624.4" y="686" width="22.8" height="3.4" fill="#b80c0c"/>
</g>
<g>
 <rect x="694.8" y="669.3" width="22.7" height="40.2" rx="2" fill="#f4f4f4" stroke="#e4e4e4" stroke-width="0.6"/>
 <rect x="697" y="670.5" width="18" height="4" rx="1" fill="#fff" stroke="#e0e0e0" stroke-width="0.5"/>
 <path d="M703.5,696 a3.5,3.5 0 0 1 7,0 Z" fill="#2a2a2a"/>
 <path d="M695.5,676 H716.5" stroke="#e6e6e6" stroke-width="0.6"/>
</g>
<g>
 <rect x="789" y="592.6" width="43.8" height="44.3" rx="7" fill="#b6b4ba"/>
 <path d="M789,626.4 H832.8 V629.9 C832.8,633.8 829.6,636.9 825.8,636.9 H796 C792.2,636.9 789,633.8 789,629.9Z" fill="#c8c6cc"/>
 <rect x="795.1" y="598.9" width="31.5" height="25.2" fill="#050306"/>
 <rect x="803" y="631" width="14" height="1.2" fill="#8ab4e8"/>
 <circle cx="811" cy="595.3" r="0.6" fill="#333"/>
</g>
<g>
 <ellipse cx="886.1" cy="618" rx="19.3" ry="11.5" fill="#e2e2e6"/>
 <ellipse cx="886.1" cy="613" rx="19.3" ry="11.5" fill="#f6f6f8"/>
 <ellipse cx="885.5" cy="607.5" rx="10.5" ry="6.5" fill="#ececf0" stroke="#dcdce0" stroke-width="0.6"/>
 <path d="M875,611 h3 M882,612.5 h3 M889,612.5 h3 M895,611 h2" stroke="#9a9a9a" stroke-width="1"/>
</g>
<g>
 <path d="M946,605 C944,597 950,591.5 957,591.5 C964,591.5 970,597 968,605" fill="none" stroke="#1a1a1a" stroke-width="1.5"/>
 <rect x="943.9" y="601" width="27.1" height="36.8" rx="2" fill="#34373a"/>
 <rect x="948" y="601.5" width="19" height="7" rx="1" fill="#b83a3a"/>
 <circle cx="957" cy="613" r="2" fill="#1a1a1a"/>
 <rect x="948" y="621.5" width="18" height="7" fill="#d8dcd8"/>
 <path d="M949,625 h16" stroke="#444" stroke-width="2" stroke-dasharray="2 1"/>
 <rect x="949" y="630.5" width="16" height="4" fill="#e8e8e8"/>
 <rect x="954" y="637.8" width="5" height="6" rx="1.5" fill="#222"/>
</g>
<g>
 <rect x="804" y="666.5" width="4.5" height="4" rx="1" fill="#333"/>
 <rect x="805" y="670.5" width="2.6" height="5" fill="#bbb"/>
 <rect x="796" y="675.4" width="21" height="37.6" rx="2.5" fill="#eeeeee" stroke="#d4d4d4" stroke-width="0.6"/>
 <rect x="796.5" y="685.9" width="20" height="6.1" fill="#1c1c1c"/>
 <path d="M803,689 h2 M806,688 v2 M808,689 h3" stroke="#e83030" stroke-width="1"/>
 <rect x="800" y="695" width="13" height="8" fill="#fafafa" stroke="#ccc" stroke-width="0.4"/>
 <path d="M802,698 h9 M802,700.5 h7" stroke="#444" stroke-width="0.6"/>
 <path d="M798,682 h2 M813,682 h2" stroke="#bbb" stroke-width="0.6"/>
</g>
<g>
 <path d="M877,677 V669.5 H893 V677" fill="none" stroke="#c8c8c8" stroke-width="1.2"/>
 <rect x="874.8" y="677.1" width="21" height="24" rx="1.5" fill="url(#gasg)"/>
 <circle cx="885.3" cy="688" r="4" fill="#6a8aa8" stroke="#3a5070" stroke-width="0.6"/>
 <rect x="880" y="694.5" width="10" height="4" fill="#2a3a50"/>
 <rect x="875.5" y="701" width="19.5" height="13.8" rx="1" fill="#3c5a80"/>
 <rect x="878" y="705" width="6" height="5" fill="#1e3050"/><rect x="886" y="705" width="6" height="5" fill="#1e3050"/>
 <rect x="874.8" y="678" width="21" height="3" fill="#5a3a4a" opacity="0.5"/>
</g>
<g>
 <rect x="949.1" y="690" width="9.7" height="23" fill="#a8a8a8"/>
 <path d="M949.1,697 h9.7 M949.1,703 h9.7" stroke="#707070" stroke-width="1"/>
 <path d="M944,668 C946,665.8 963,665.8 965,668 L968.4,676 V686 C966,690 960,692 953.8,692 C947,692 941,690 938.6,686 V676 Z" fill="#e85a30"/>
 <rect x="937" y="673.5" width="3" height="5" fill="#c84a24"/><rect x="967" y="673.5" width="3" height="5" fill="#c84a24"/>
 <rect x="942" y="680" width="4" height="6" fill="#f07a50" opacity="0.6"/>
</g>
<g>
 <path d="M1038,603.5 H1062 V614.4 H1071.8 V642.8 H1041.5 V640.5 H1020.5 V614.4 H1038 Z" fill="#e8e6e2" stroke="#dcdad6" stroke-width="0.5"/>
 <g fill="#505050"><rect x="1033.2" y="622.0" width="1.7" height="1.5"/><rect x="1033.2" y="624.7" width="1.7" height="1.5"/><rect x="1033.2" y="627.4" width="1.7" height="1.5"/><rect x="1033.2" y="630.1" width="1.7" height="1.5"/><rect x="1033.2" y="632.8" width="1.7" height="1.5"/><rect x="1037.0" y="622.0" width="1.7" height="1.5"/><rect x="1037.0" y="624.7" width="1.7" height="1.5"/><rect x="1037.0" y="627.4" width="1.7" height="1.5"/><rect x="1037.0" y="630.1" width="1.7" height="1.5"/><rect x="1037.0" y="632.8" width="1.7" height="1.5"/><rect x="1040.7" y="622.0" width="1.7" height="1.5"/><rect x="1040.7" y="624.7" width="1.7" height="1.5"/><rect x="1040.7" y="627.4" width="1.7" height="1.5"/><rect x="1040.7" y="630.1" width="1.7" height="1.5"/><rect x="1040.7" y="632.8" width="1.7" height="1.5"/><rect x="1044.5" y="622.0" width="1.7" height="1.5"/><rect x="1044.5" y="624.7" width="1.7" height="1.5"/><rect x="1044.5" y="627.4" width="1.7" height="1.5"/><rect x="1044.5" y="630.1" width="1.7" height="1.5"/><rect x="1044.5" y="632.8" width="1.7" height="1.5"/><rect x="1048.2" y="620.5" width="1.7" height="1.5"/><rect x="1048.2" y="623.2" width="1.7" height="1.5"/><rect x="1048.2" y="625.9" width="1.7" height="1.5"/><rect x="1048.2" y="628.6" width="1.7" height="1.5"/><rect x="1048.2" y="631.3" width="1.7" height="1.5"/><rect x="1052.0" y="619.1" width="1.7" height="1.5"/><rect x="1052.0" y="621.8" width="1.7" height="1.5"/><rect x="1052.0" y="624.5" width="1.7" height="1.5"/><rect x="1052.0" y="627.2" width="1.7" height="1.5"/><rect x="1052.0" y="629.9" width="1.7" height="1.5"/><rect x="1055.7" y="617.7" width="1.7" height="1.5"/><rect x="1055.7" y="620.4" width="1.7" height="1.5"/><rect x="1055.7" y="623.1" width="1.7" height="1.5"/><rect x="1055.7" y="625.8" width="1.7" height="1.5"/><rect x="1055.7" y="628.5" width="1.7" height="1.5"/><rect x="1059.5" y="617.7" width="1.7" height="1.5"/><rect x="1059.5" y="620.4" width="1.7" height="1.5"/><rect x="1059.5" y="623.1" width="1.7" height="1.5"/><rect x="1059.5" y="625.8" width="1.7" height="1.5"/><rect x="1059.5" y="628.5" width="1.7" height="1.5"/><rect x="1063.2" y="617.7" width="1.7" height="1.5"/><rect x="1063.2" y="620.4" width="1.7" height="1.5"/><rect x="1063.2" y="623.1" width="1.7" height="1.5"/><rect x="1063.2" y="625.8" width="1.7" height="1.5"/><rect x="1063.2" y="628.5" width="1.7" height="1.5"/><rect x="1067.0" y="617.7" width="1.7" height="1.5"/><rect x="1067.0" y="620.4" width="1.7" height="1.5"/><rect x="1067.0" y="623.1" width="1.7" height="1.5"/><rect x="1067.0" y="625.8" width="1.7" height="1.5"/><rect x="1067.0" y="628.5" width="1.7" height="1.5"/><rect x="1070.7" y="617.7" width="1.7" height="1.5"/><rect x="1070.7" y="620.4" width="1.7" height="1.5"/><rect x="1070.7" y="623.1" width="1.7" height="1.5"/><rect x="1070.7" y="625.8" width="1.7" height="1.5"/><rect x="1070.7" y="628.5" width="1.7" height="1.5"/></g>
 <circle cx="1024" cy="637.8" r="1.2" fill="#333"/><circle cx="1029.2" cy="637" r="1.2" fill="#333"/>
 <circle cx="1040.2" cy="607.5" r="1.1" fill="#555"/><circle cx="1060.3" cy="607.5" r="1.1" fill="#555"/><circle cx="1071" cy="640.5" r="1" fill="#555"/>
 <rect x="1039" y="604.5" width="6.5" height="1.2" fill="#8a8a8a"/>
</g>
<g>
 <rect x="1110" y="602.4" width="38.9" height="43.6" fill="#f6f6f6"/>
 <rect x="1110" y="602.4" width="11" height="43.6" fill="#ececec"/>
 <path d="M1121,602.4 V646" stroke="#e0e0e0" stroke-width="0.6"/>
 <g fill="#2a2a2a"><circle cx="1128.7" cy="606.2" r="1.4"/><circle cx="1134.7" cy="606.2" r="1.4"/><circle cx="1141.2" cy="606.2" r="1.4"/><circle cx="1128.7" cy="642.3" r="1.4"/><circle cx="1134.7" cy="642.3" r="1.4"/><circle cx="1141.2" cy="642.3" r="1.4"/></g>
 <rect x="1127" y="610.5" width="2.4" height="2.4" fill="#f07020"/>
 <rect x="1129.2" y="619.3" width="19.7" height="4.9" fill="#4a4a4a"/>
 <path d="M1130.5,619.5 V616.5 L1132,615.5 M1136.5,619.5 V616.5 L1138,615.5 M1142.5,619.5 V616.5 L1144,615.5" stroke="#333" stroke-width="1.6" fill="none"/>
 <rect x="1110" y="631" width="38.9" height="1" fill="#e4e4e4"/>
 <rect x="1111" y="644.5" width="4" height="2" fill="#333"/>
</g>
<g>
 <rect x="1178.1" y="605.2" width="39.4" height="40.9" rx="1" fill="#ededed" stroke="#bdbdbd" stroke-width="1"/>
 <rect x="1181.5" y="609" width="32.5" height="33" fill="#f3f3f3" stroke="#dedede" stroke-width="0.6"/>
 <path d="M1197,614 h2.5 v4.6 h-2.5 a2.3,2.3 0 0 1 0,-4.6Z" fill="#111"/>
 <path d="M1208,614 h-2.5 v4.6 h2.5 a2.3,2.3 0 0 0 0,-4.6Z" fill="#111"/>
 <rect x="1201.3" y="624" width="1.8" height="4" rx="0.8" fill="#333"/>
 <path d="M1197.5,631 L1199.5,634.5 M1206.5,631 L1204.5,634.5" stroke="#111" stroke-width="1.5"/>
 <g fill="#3aa0e0"><rect x="1186.5" y="613.8" width="1.2" height="1.2"/><rect x="1186.5" y="616" width="1.2" height="1.2"/></g>
 <rect x="1185.5" y="627.5" width="6.5" height="6" fill="#d6ecf8" stroke="#a8d4f0" stroke-width="0.5"/>
 <rect x="1193" y="643.3" width="9" height="1" fill="#aaa"/>
</g>
<g>
 <rect x="1070.7" y="684.3" width="102.5" height="17.3" rx="3" fill="#f0f2f6" stroke="#e2e4ea" stroke-width="0.6"/>
 <rect x="1068" y="686.5" width="3" height="3" fill="#ddd"/>
 <rect x="1084.5" y="690" width="4.5" height="5.5" rx="1" fill="none" stroke="#777" stroke-width="0.9"/>
 <path d="M1080.5,688 v10" stroke="#888" stroke-width="1.2"/>
 <g transform="translate(1105.2,693)"><path d="M-2.5,-3 h1.4 M1.1,-3 h1.4 M-0.3,-0.5 v1.4 M-2.5,2.5 l1,1.2 M2.5,2.5 l-1,1.2" stroke="#777" stroke-width="0.9"/></g><g transform="translate(1119.1,693)"><path d="M-2.5,-3 h1.4 M1.1,-3 h1.4 M-0.3,-0.5 v1.4 M-2.5,2.5 l1,1.2 M2.5,2.5 l-1,1.2" stroke="#777" stroke-width="0.9"/></g><g transform="translate(1133,693)"><path d="M-2.5,-3 h1.4 M1.1,-3 h1.4 M-0.3,-0.5 v1.4 M-2.5,2.5 l1,1.2 M2.5,2.5 l-1,1.2" stroke="#777" stroke-width="0.9"/></g><g transform="translate(1147,693)"><path d="M-2.5,-3 h1.4 M1.1,-3 h1.4 M-0.3,-0.5 v1.4 M-2.5,2.5 l1,1.2 M2.5,2.5 l-1,1.2" stroke="#777" stroke-width="0.9"/></g><g transform="translate(1160.9,693)"><path d="M-2.5,-3 h1.4 M1.1,-3 h1.4 M-0.3,-0.5 v1.4 M-2.5,2.5 l1,1.2 M2.5,2.5 l-1,1.2" stroke="#777" stroke-width="0.9"/></g>
 <rect x="1169.5" y="692.5" width="1" height="1.5" fill="#c44"/>
</g>
<text x="42.35" y="158.47" font-size="24.20" fill="#fff" font-weight="normal" stroke="#fff" stroke-width="0.9" stroke-linejoin="round">数据中心</text>
<text x="457.20" y="159.72" font-size="24.20" fill="#fff" font-weight="normal" stroke="#fff" stroke-width="0.9" stroke-linejoin="round">核心出口</text>
<text x="878.92" y="160.59" font-size="24.20" fill="#fff" font-weight="normal" stroke="#fff" stroke-width="0.9" stroke-linejoin="round">智慧教室</text>
<text x="58.86" y="416.02" font-size="24.20" fill="#fff" font-weight="normal" stroke="#fff" stroke-width="0.9" stroke-linejoin="round">有线网</text>
<text x="467.12" y="416.97" font-size="24.20" fill="#fff" font-weight="normal" stroke="#fff" stroke-width="0.9" stroke-linejoin="round">无线网</text>
<text x="892.11" y="414.80" font-size="24.20" fill="#fff" font-weight="normal" stroke="#fff" stroke-width="0.9" stroke-linejoin="round">物联网</text>
<text x="46.62" y="565.53" font-size="24.20" fill="#fff" font-weight="normal" stroke="#fff" stroke-width="0.9" stroke-linejoin="round">办公</text>
<text x="275.22" y="567.64" font-size="24.20" fill="#fff" font-weight="normal" stroke="#fff" stroke-width="0.9" stroke-linejoin="round">学生机房</text>
<text x="531.53" y="566.84" font-size="24.20" fill="#fff" font-weight="normal" stroke="#fff" stroke-width="0.9" stroke-linejoin="round">安防系统</text>
<text x="775.84" y="567.76" font-size="24.20" fill="#fff" font-weight="normal" stroke="#fff" stroke-width="0.9" stroke-linejoin="round">环境系统</text>
<text x="1018.13" y="565.14" font-size="24.20" fill="#fff" font-weight="normal" stroke="#fff" stroke-width="0.9" stroke-linejoin="round" clip-path="url(#hclip)">用电系统</text>
<text x="264.96" y="188.36" font-size="12.70" fill="#111" font-weight="normal" stroke="#111" stroke-width="0.2">机房动环系统</text>
<text x="61.90" y="286.82" font-size="12.70" fill="#111" font-weight="normal" stroke="#111" stroke-width="0.2">超融合一体机</text>
<text x="155.73" y="353.09" font-size="12.70" fill="#111" font-weight="normal" stroke="#111" stroke-width="0.2">数据中心交换机</text>
<text x="289.08" y="348.90" font-size="12.70" fill="#111" font-weight="normal" stroke="#111" stroke-width="0.2">下一代防火墙</text>
<text x="654.39" y="258.05" font-size="12.70" fill="#111" font-weight="normal" stroke="#111" stroke-width="0.2">多合一网关</text>
<text x="571.59" y="379.94" font-size="12.70" fill="#111" font-weight="normal" stroke="#111" stroke-width="0.2">核心交换机</text>
<text x="888.11" y="268.55" font-size="12.70" fill="#111" font-weight="normal" stroke="#111" stroke-width="0.2">电子班牌</text>
<text x="980.67" y="270.52" font-size="12.70" fill="#111" font-weight="normal" stroke="#111" stroke-width="0.2">一体机</text>
<text x="1069.00" y="268.35" font-size="12.70" fill="#111" font-weight="normal" stroke="#111" stroke-width="0.2">投影</text>
<text x="1160.40" y="268.61" font-size="12.70" fill="#111" font-weight="normal" stroke="#111" stroke-width="0.2">录播系统</text>
<text x="924.25" y="369.87" font-size="12.70" fill="#111" font-weight="normal" stroke="#111" stroke-width="0.2">物联网控制器</text>
<text x="1052.30" y="369.99" font-size="12.70" fill="#111" font-weight="normal" stroke="#111" stroke-width="0.2">物联网环境检测传感器</text>
<text x="327.91" y="444.80" font-size="12.70" fill="#111" font-weight="normal" stroke="#111" stroke-width="0.2">汇聚交换机</text>
<text x="259.78" y="506.05" font-size="12.70" fill="#111" font-weight="normal" stroke="#111" stroke-width="0.2">接入交换机</text>
<text x="523.42" y="479.72" font-size="12.70" fill="#111" font-weight="normal" stroke="#111" stroke-width="0.2">无线场景化AP</text>
<text x="934.04" y="479.78" font-size="12.70" fill="#111" font-weight="normal" stroke="#111" stroke-width="0.2">多协议物联网网关</text>
<text x="933.82" y="494.74" font-size="14.00" fill="#111" font-weight="normal" stroke="#111" stroke-width="0.2" transform="translate(933.82,0) scale(0.9981,1) translate(-933.82,0)">Lora&#160; Zigbee 433</text>
<text x="91.30" y="671.27" font-size="12.70" fill="#111" font-weight="normal" stroke="#111" stroke-width="0.2">教师终端</text>
<text x="430.32" y="634.72" font-size="12.70" fill="#111" font-weight="normal" stroke="#111" stroke-width="0.2">云主机</text>
<text x="345.25" y="715.98" font-size="12.70" fill="#111" font-weight="normal" stroke="#111" stroke-width="0.2">云终端</text>
<text x="537.34" y="658.63" font-size="12.70" fill="#111" font-weight="normal" stroke="#111" stroke-width="0.2">摄像头</text>
<text x="619.42" y="656.54" font-size="12.70" fill="#111" font-weight="normal" stroke="#111" stroke-width="0.2">门锁</text>
<text x="674.67" y="656.34" font-size="12.70" fill="#111" font-weight="normal" stroke="#111" stroke-width="0.2">人脸识别</text>
<text x="531.44" y="730.77" font-size="12.70" fill="#111" font-weight="normal" stroke="#111" stroke-width="0.2">烟雾探测</text>
<text x="610.11" y="730.77" font-size="12.70" fill="#111" font-weight="normal" stroke="#111" stroke-width="0.2">声光报警</text>
<text x="676.29" y="731.09" font-size="12.70" fill="#111" font-weight="normal" stroke="#111" stroke-width="0.2">红外感应</text>
<text x="784.99" y="656.34" font-size="12.70" fill="#111" font-weight="normal" stroke="#111" stroke-width="0.2">温湿度</text>
<text x="856.62" y="658.16" font-size="12.70" fill="#111" font-weight="normal" stroke="#111" stroke-width="0.2">空气质量</text>
<text x="933.24" y="656.19" font-size="12.70" fill="#111" font-weight="normal" stroke="#111" stroke-width="0.2">颗粒物</text>
<text x="792.16" y="728.78" font-size="12.70" fill="#111" font-weight="normal" stroke="#111" stroke-width="0.2">甲醛</text>
<text x="856.81" y="728.72" font-size="12.70" fill="#111" font-weight="normal" stroke="#111" stroke-width="0.2">可燃气体</text>
<text x="937.66" y="730.05" font-size="14.20" fill="#111" font-weight="normal" stroke="#111" stroke-width="0.2">VOC</text>
<text x="1056.65" y="663.11" font-size="12.70" fill="#111" font-weight="normal" stroke="#111" stroke-width="0.2">智能空开</text>
<text x="1170.10" y="661.71" font-size="12.70" fill="#111" font-weight="normal" stroke="#111" stroke-width="0.2">智能插座</text>
<text x="1099.15" y="723.88" font-size="12.70" fill="#111" font-weight="normal" stroke="#111" stroke-width="0.2">智能插排</text>
<text x="748.91" y="354.11" font-size="16.20" fill="#ff1010" font-weight="bold">三网合一</text>
<text x="756.87" y="372.29" font-size="16.20" fill="#ff1010" font-weight="bold">控制器</text>
<text x="512.71" y="201.11" font-size="14.00" fill="#20267a" font-weight="normal" stroke="#20267a" stroke-width="0.45" transform="translate(512.71,0) scale(1.1007,1) translate(-512.71,0)">Internet</text>
<text x="646.86" y="201.65" font-size="13.52" fill="#20267a" font-weight="bold">教育城域网</text>
<g transform="translate(0,60.40) scale(1,0.9057) translate(0,-60.40)">
<text x="418.98" y="80.96" font-size="59.60" fill="#08088f" font-weight="bold" stroke="#08088f" stroke-width="1.6" stroke-linejoin="round">校园网络架构图</text>
</g>
</svg></body></html>
